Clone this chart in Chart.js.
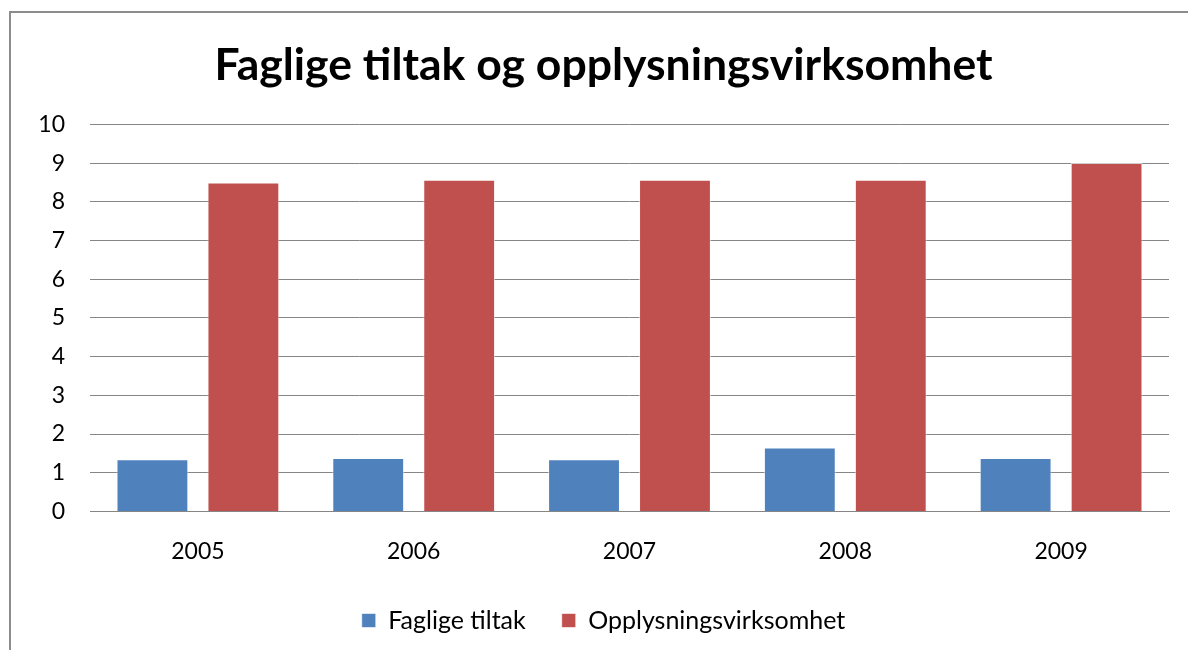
<!DOCTYPE html>
<html>
<head>
<meta charset="utf-8">
<script src="https://cdn.jsdelivr.net/npm/chart.js@4"></script>
<style>
  body { margin: 0; background: #fff; }
  #wrap { position: relative; width: 1188px; height: 650px; overflow: hidden; }
  #frame { position: absolute; left: 9px; top: 11px; width: 1300px; height: 800px; border: 2px solid #8c8c8c; box-sizing: border-box; }
  canvas { position: absolute; left: 0; top: 0; }
</style>
</head>
<body>
<div id="wrap">
  <div id="frame"></div>
  <canvas id="myChart" width="1188" height="650"></canvas>
</div>
<script>
const years = ['2005', '2006', '2007', '2008', '2009'];
const fagligeTiltak = [1.35, 1.38, 1.35, 1.65, 1.38];
const opplysning = [8.5, 8.57, 8.57, 8.57, 9.0];
const yTicks = [0, 1, 2, 3, 4, 5, 6, 7, 8, 9, 10];

const fontFamily = 'Lato, "Open Sans", sans-serif';

const datasets = [
  { label: 'Faglige tiltak', data: fagligeTiltak, backgroundColor: '#4F81BD', borderColor: 'rgba(255,255,255,0.6)', borderWidth: 1 },
  { label: 'Opplysningsvirksomhet', data: opplysning, backgroundColor: '#C0504D', borderColor: 'rgba(255,255,255,0.6)', borderWidth: 1 }
];

const ctx = document.getElementById('myChart').getContext('2d');
const myChart = new Chart(ctx, {
  type: 'bar',
  data: { labels: years, datasets: datasets },
  options: {
    responsive: false,
    animation: false,
    categoryPercentage: 0.843,
    barPercentage: 0.79,
    layout: { padding: { left: 38, right: 19, top: 0, bottom: 7 } },
    plugins: {
      title: {
        display: true,
        text: 'Faglige tiltak og opplysningsvirksomhet',
        color: '#000',
        font: { family: fontFamily, size: 44.5, weight: 'bold' },
        padding: { top: 39, bottom: 32 }
      },
      legend: {
        position: 'bottom',
        labels: {
          color: '#000',
          font: { family: fontFamily, size: 25 },
          boxWidth: 14,
          boxHeight: 14,
          padding: 36
        }
      },
      tooltip: { enabled: false }
    },
    scales: {
      x: {
        // legend padding is large for horizontal spacing, so pull the axis back down
        afterFit: (scale) => { scale.height -= 11; },
        grid: { display: false },
        border: { display: true, color: '#868686' },
        ticks: { color: '#000', font: { family: fontFamily, size: 23 }, padding: 18 }
      },
      y: {
        min: 0,
        max: 10,
        afterBuildTicks: (scale) => { scale.ticks = yTicks.map(v => ({ value: v })); },
        afterFit: (scale) => { scale.width = 52; },
        grid: { color: '#868686', drawTicks: false },
        border: { display: false },
        ticks: { color: '#000', font: { family: fontFamily, size: 23 }, padding: 25 }
      }
    }
  }
});
</script>
</body>
</html>
